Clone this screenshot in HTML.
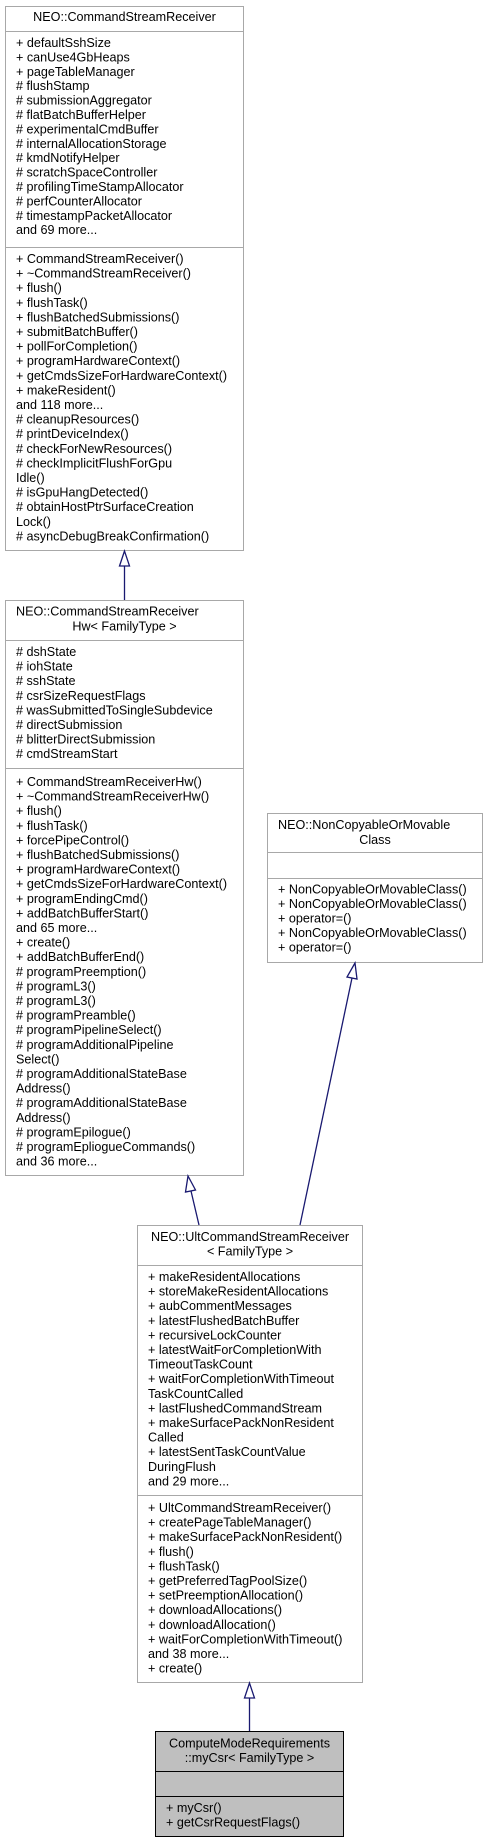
<!DOCTYPE html>
<html><head><meta charset="utf-8"><style>
html,body{margin:0;padding:0;background:#fff;}
svg{display:block;}
text{font-family:"Liberation Sans",Arial,sans-serif;font-size:12.6px;fill:#000;dominant-baseline:central;}
.c{text-anchor:middle;}
</style></head><body>
<svg width="487" height="1843" viewBox="0 0 487 1843" xmlns="http://www.w3.org/2000/svg">
<g fill="#fff" stroke="#a8a8a8" stroke-width="1">
<rect x="5.5" y="6.5" width="238" height="544"/>
<line x1="5.5" y1="31.5" x2="243.5" y2="31.5"/>
<line x1="5.5" y1="247.5" x2="243.5" y2="247.5"/>
<rect x="5.5" y="600.5" width="238" height="575"/>
<line x1="5.5" y1="640.5" x2="243.5" y2="640.5"/>
<line x1="5.5" y1="768.5" x2="243.5" y2="768.5"/>
<rect x="267.5" y="813.5" width="215" height="149"/>
<line x1="267.5" y1="852.5" x2="482.5" y2="852.5"/>
<line x1="267.5" y1="878.5" x2="482.5" y2="878.5"/>
<rect x="137.5" y="1225.5" width="225" height="457"/>
<line x1="137.5" y1="1265.5" x2="362.5" y2="1265.5"/>
<line x1="137.5" y1="1495.5" x2="362.5" y2="1495.5"/>
</g>
<g fill="#bfbfbf" stroke="#000" stroke-width="1">
<rect x="155.5" y="1731.5" width="188" height="105"/>
<line x1="155.5" y1="1771.5" x2="343.5" y2="1771.5"/>
<line x1="155.5" y1="1796.5" x2="343.5" y2="1796.5"/>
</g>
<g stroke="#191970" stroke-width="1.3" fill="#fff">
<line x1="124.5" y1="566" x2="124.5" y2="600"/>
<polygon points="124.5,551 119.5,566 129.5,566"/>
<line x1="191" y1="1191" x2="199" y2="1225"/>
<polygon points="188,1176 185.5,1192 195.5,1190"/>
<line x1="352" y1="978" x2="300" y2="1225"/>
<polygon points="355,963 347,977 357,979"/>
<line x1="249.5" y1="1698" x2="249.5" y2="1731"/>
<polygon points="249.5,1683 244.5,1698 254.5,1698"/>
</g>
<text class="c" x="124.5" y="17">NEO::CommandStreamReceiver</text>
<g transform="translate(16,0)">
<text y="43">+ defaultSshSize</text><text y="57.4">+ canUse4GbHeaps</text><text y="71.8">+ pageTableManager</text><text y="86.2"># flushStamp</text><text y="100.6"># submissionAggregator</text><text y="115"># flatBatchBufferHelper</text><text y="129.4"># experimentalCmdBuffer</text><text y="143.8"># internalAllocationStorage</text><text y="158.2"># kmdNotifyHelper</text><text y="172.6"># scratchSpaceController</text><text y="187"># profilingTimeStampAllocator</text><text y="201.4"># perfCounterAllocator</text><text y="215.8"># timestampPacketAllocator</text><text y="230.2">and 69 more...</text>
<text y="259">+ CommandStreamReceiver()</text><text y="273.6">+ ~CommandStreamReceiver()</text><text y="288.2">+ flush()</text><text y="302.8">+ flushTask()</text><text y="317.4">+ flushBatchedSubmissions()</text><text y="332">+ submitBatchBuffer()</text><text y="346.6">+ pollForCompletion()</text><text y="361.2">+ programHardwareContext()</text><text y="375.8">+ getCmdsSizeForHardwareContext()</text><text y="390.4">+ makeResident()</text><text y="405">and 118 more...</text><text y="419.6"># cleanupResources()</text><text y="434.2"># printDeviceIndex()</text><text y="448.8"># checkForNewResources()</text><text y="463.4"># checkImplicitFlushForGpu</text><text y="478">Idle()</text><text y="492.6"># isGpuHangDetected()</text><text y="507.2"># obtainHostPtrSurfaceCreation</text><text y="521.8">Lock()</text><text y="536.4"># asyncDebugBreakConfirmation()</text>
</g>
<text x="16" y="611.5">NEO::CommandStreamReceiver</text>
<text class="c" x="124.5" y="626.5">Hw&lt; FamilyType &gt;</text>
<g transform="translate(16,0)">
<text y="652"># dshState</text><text y="666.6"># iohState</text><text y="681.2"># sshState</text><text y="695.8"># csrSizeRequestFlags</text><text y="710.4"># wasSubmittedToSingleSubdevice</text><text y="725"># directSubmission</text><text y="739.6"># blitterDirectSubmission</text><text y="754.2"># cmdStreamStart</text>
<text y="782">+ CommandStreamReceiverHw()</text><text y="796.6">+ ~CommandStreamReceiverHw()</text><text y="811.2">+ flush()</text><text y="825.8">+ flushTask()</text><text y="840.4">+ forcePipeControl()</text><text y="855">+ flushBatchedSubmissions()</text><text y="869.6">+ programHardwareContext()</text><text y="884.2">+ getCmdsSizeForHardwareContext()</text><text y="898.8">+ programEndingCmd()</text><text y="913.4">+ addBatchBufferStart()</text><text y="928">and 65 more...</text><text y="942.6">+ create()</text><text y="957.2">+ addBatchBufferEnd()</text><text y="971.8"># programPreemption()</text><text y="986.4"># programL3()</text><text y="1001"># programL3()</text><text y="1015.6"># programPreamble()</text><text y="1030.2"># programPipelineSelect()</text><text y="1044.8"># programAdditionalPipeline</text><text y="1059.4">Select()</text><text y="1074"># programAdditionalStateBase</text><text y="1088.6">Address()</text><text y="1103.2"># programAdditionalStateBase</text><text y="1117.8">Address()</text><text y="1132.4"># programEpilogue()</text><text y="1147"># programEpliogueCommands()</text><text y="1161.6">and 36 more...</text>
</g>
<text x="278" y="825">NEO::NonCopyableOrMovable</text>
<text class="c" x="375" y="840">Class</text>
<g transform="translate(278,0)">
<text y="889.5">+ NonCopyableOrMovableClass()</text><text y="904">+ NonCopyableOrMovableClass()</text><text y="918.5">+ operator=()</text><text y="933">+ NonCopyableOrMovableClass()</text><text y="947.5">+ operator=()</text>
</g>
<text class="c" x="250" y="1237">NEO::UltCommandStreamReceiver</text>
<text class="c" x="250" y="1251.5">&lt; FamilyType &gt;</text>
<g transform="translate(148,0)">
<text y="1277">+ makeResidentAllocations</text><text y="1291.6">+ storeMakeResidentAllocations</text><text y="1306.2">+ aubCommentMessages</text><text y="1320.8">+ latestFlushedBatchBuffer</text><text y="1335.4">+ recursiveLockCounter</text><text y="1350">+ latestWaitForCompletionWith</text><text y="1364.6">TimeoutTaskCount</text><text y="1379.2">+ waitForCompletionWithTimeout</text><text y="1393.8">TaskCountCalled</text><text y="1408.4">+ lastFlushedCommandStream</text><text y="1423">+ makeSurfacePackNonResident</text><text y="1437.6">Called</text><text y="1452.2">+ latestSentTaskCountValue</text><text y="1466.8">DuringFlush</text><text y="1481.4">and 29 more...</text>
<text y="1508">+ UltCommandStreamReceiver()</text><text y="1522.6">+ createPageTableManager()</text><text y="1537.2">+ makeSurfacePackNonResident()</text><text y="1551.8">+ flush()</text><text y="1566.4">+ flushTask()</text><text y="1581">+ getPreferredTagPoolSize()</text><text y="1595.6">+ setPreemptionAllocation()</text><text y="1610.2">+ downloadAllocations()</text><text y="1624.8">+ downloadAllocation()</text><text y="1639.4">+ waitForCompletionWithTimeout()</text><text y="1654">and 38 more...</text><text y="1668.6">+ create()</text>
</g>
<text class="c" x="249.5" y="1743.5">ComputeModeRequirements</text>
<text class="c" x="249.5" y="1758">::myCsr&lt; FamilyType &gt;</text>
<text x="166" y="1808">+ myCsr()</text>
<text x="166" y="1822.6">+ getCsrRequestFlags()</text>
</svg>
</body></html>
